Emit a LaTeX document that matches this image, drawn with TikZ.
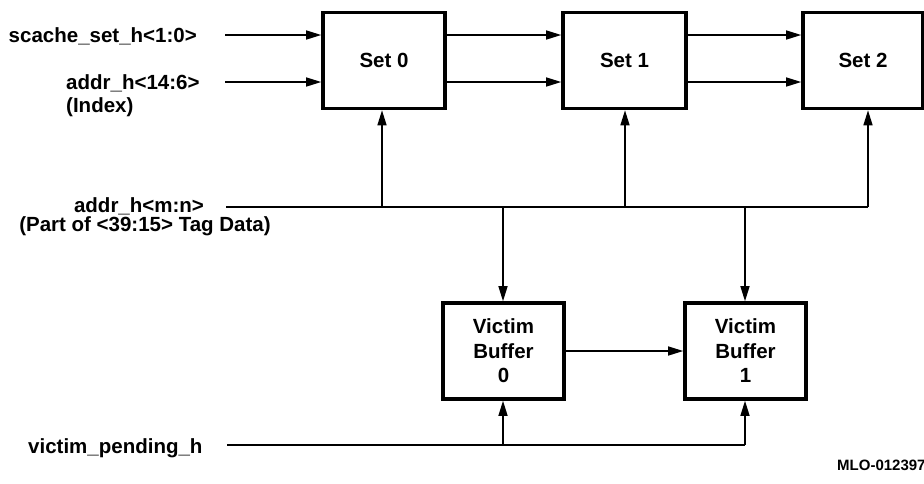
\documentclass[tikz,border=0pt]{standalone}
\usepackage{fontspec}
\setmainfont{Liberation Sans}
\usetikzlibrary{arrows.meta}
\begin{document}
\begin{tikzpicture}[x=1pt,y=-1pt,
  every node/.style={font=\bfseries\fontsize{20.5}{24.5}\selectfont, inner sep=0pt},
  blk/.style={draw, line width=3.6pt, rectangle, align=center},
  wire/.style={line width=1.4pt},
  arr/.style={line width=1.4pt, -{Triangle[length=15pt,width=9pt]}},
  lbl/.style={anchor=base}]
\useasboundingbox (0,0) rectangle (924,483);
% blocks
\node[blk, minimum width=122pt, minimum height=96pt] (set0) at (384,60.5) {Set 0};
\node[blk, minimum width=123pt, minimum height=96pt] (set1) at (624.5,60.5) {Set 1};
\node[blk, minimum width=120pt, minimum height=96pt] (set2) at (863,60.5) {Set 2};
\node[blk, minimum width=121pt, minimum height=96pt] (vb0) at (503.5,351) {Victim\\Buffer\\0};
\node[blk, minimum width=121pt, minimum height=96pt] (vb1) at (745.5,351) {Victim\\Buffer\\1};
% labels
\node[anchor=base east] (lset) at (197,42) {scache\_set\_h<1:0>};
\node[anchor=base west] (lidx) at (66,89) {addr\_h<14:6>};
\node[anchor=base west] (lidx2) at (66,112) {(Index)};
\node[anchor=base] (ltag) at (139,212) {addr\_h<m:n>};
\node[anchor=base] (ltag2) at (145,231) {(Part of <39:15> Tag Data)};
\node[anchor=base west] (lvp) at (28,453) {victim\_pending\_h};
\node[anchor=base west, font=\bfseries\fontsize{15}{18}\selectfont] (mlo) at (837,470) {MLO-012397};
% coordinates
\coordinate (in1) at (225,35);
\coordinate (in2) at (225,82);
\coordinate (bus) at (226,207);
\coordinate (b0) at (382,207);
\coordinate (b1) at (625,207);
\coordinate (b2) at (868,207);
\coordinate (d0) at (503,207);
\coordinate (d1) at (745,207);
\coordinate (vp) at (227,445);
\coordinate (vp0) at (503,445);
\coordinate (vp1) at (745,445);
% inputs to set 0
\draw[arr] (in1) -- (set0.west |- in1);
\draw[arr] (in2) -- (set0.west |- in2);
% set 0 -> set 1 -> set 2
\draw[arr] (set0.east |- in1) -- (set1.west |- in1);
\draw[arr] (set0.east |- in2) -- (set1.west |- in2);
\draw[arr] (set1.east |- in1) -- (set2.west |- in1);
\draw[arr] (set1.east |- in2) -- (set2.west |- in2);
% tag bus
\draw[wire] (bus) -- (b2);
\draw[arr] (b0) -- (b0 |- set0.south);
\draw[arr] (b1) -- (b1 |- set1.south);
\draw[arr] (b2) -- (b2 |- set2.south);
\draw[arr] (d0) -- (d0 |- vb0.north);
\draw[arr] (d1) -- (d1 |- vb1.north);
% victim buffers
\draw[arr] (vb0.east) -- (vb1.west);
\draw[wire] (vp) -- (vp1);
\draw[arr] (vp0) -- (vp0 |- vb0.south);
\draw[arr] (vp1) -- (vp1 |- vb1.south);
\end{tikzpicture}
\end{document}
